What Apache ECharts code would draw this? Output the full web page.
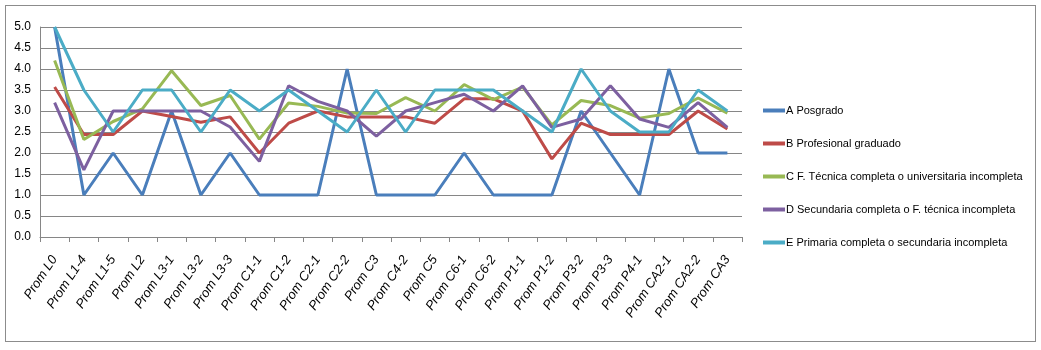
<!DOCTYPE html>
<html><head><meta charset="utf-8">
<script src="https://cdn.jsdelivr.net/npm/echarts@6/dist/echarts.min.js"></script>
<style>html,body{margin:0;padding:0;background:#fff}#box{position:absolute;left:5px;top:5px;width:1029px;height:335px;border:1px solid #8c8c8c}#c{position:absolute;left:0;top:0;width:1041px;height:350px}</style>
</head><body><div id="box"></div><div id="c"></div>
<script>
const categories = ["Prom L0","Prom L1-4","Prom L1-5","Prom L2","Prom L3-1","Prom L3-2","Prom L3-3","Prom C1-1","Prom C1-2","Prom C2-1","Prom C2-2","Prom C3","Prom C4-2","Prom C5","Prom C6-1","Prom C6-2","Prom P1-1","Prom P1-2","Prom P3-2","Prom P3-3","Prom P4-1","Prom CA2-1","Prom CA2-2","Prom CA3"];
const seriesNames = ["A Posgrado","B Profesional graduado","C F. Técnica completa o universitaria incompleta","D Secundaria completa o F. técnica incompleta","E Primaria completa o secundaria incompleta"];
const seriesA = [5.0,1.0,2.0,1.0,3.0,1.0,2.0,1.0,1.0,1.0,4.0,1.0,1.0,1.0,2.0,1.0,1.0,1.0,3.0,2.0,1.0,4.0,2.0,2.0];
const seriesB = [3.57,2.44,2.44,3.0,2.87,2.73,2.86,2.0,2.71,3.0,2.86,2.86,2.86,2.71,3.29,3.29,3.0,1.86,2.71,2.44,2.44,2.44,3.0,2.57];
const seriesC = [4.2,2.32,2.75,3.05,3.96,3.13,3.37,2.33,3.19,3.11,2.95,2.94,3.32,3.0,3.63,3.27,3.57,2.67,3.25,3.13,2.83,2.94,3.31,2.95];
const seriesD = [3.2,1.6,3.0,3.0,3.0,3.0,2.62,1.8,3.6,3.23,3.0,2.4,3.0,3.2,3.4,3.0,3.6,2.61,2.81,3.6,2.81,2.61,3.2,2.61];
const seriesE = [5.0,3.5,2.5,3.5,3.5,2.5,3.5,3.0,3.5,3.0,2.5,3.5,2.5,3.5,3.5,3.5,3.0,2.5,4.0,3.0,2.5,2.5,3.5,3.0];
const colors = ["#4A7EBB","#BE4B48","#98B954","#7D60A0","#4BACC6"];
const yTicks = {min:0,max:5,interval:0.5};
const font = '"Liberation Sans",Arial,sans-serif';
const allData = [seriesA,seriesB,seriesC,seriesD,seriesE];
const chart = echarts.init(document.getElementById('c'));
chart.setOption({
  animation:false,
  color:colors,
  grid:{left:40,right:299,top:27,bottom:113,containLabel:false},
  legend:{orient:'vertical',left:758,top:99,itemWidth:22,itemHeight:4,itemGap:20,icon:'rect',
    textStyle:{fontFamily:font,fontSize:11,lineHeight:13,color:'#000',padding:[0,0,0,-4]},data:seriesNames},
  xAxis:{type:'category',data:categories,boundaryGap:true,
    axisLine:{lineStyle:{color:'#868686',width:1}},
    axisTick:{show:true,length:5,lineStyle:{color:'#868686'}},
    axisLabel:{rotate:56,interval:0,fontFamily:font,fontStyle:'italic',fontSize:13,color:'#000',margin:20}},
  yAxis:{type:'value',min:yTicks.min,max:yTicks.max,interval:yTicks.interval,
    axisLine:{show:true,lineStyle:{color:'#868686'}},
    axisTick:{show:false},
    splitLine:{lineStyle:{color:'#868686',width:1}},
    axisLabel:{fontFamily:font,fontSize:12,color:'#000',margin:9,formatter:v=>v.toFixed(1)}},
  series: seriesNames.map((n,i)=>({name:n,type:'line',data:allData[i],symbol:'none',
    lineStyle:{width:3,color:colors[i]},itemStyle:{color:colors[i]}}))
});
</script></body></html>
